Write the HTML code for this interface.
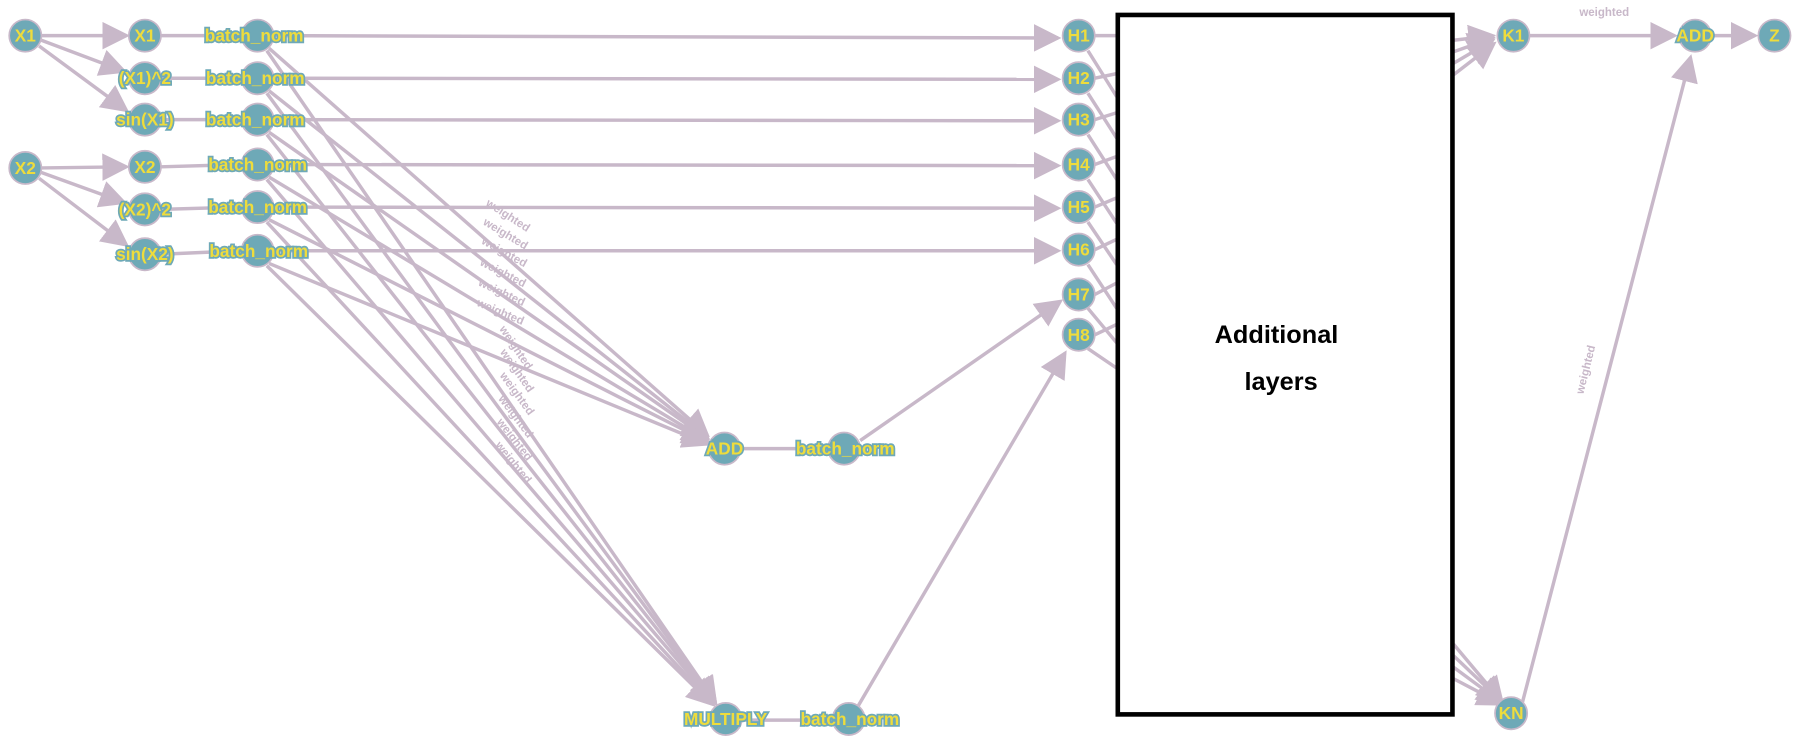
<!DOCTYPE html>
<html><head><meta charset="utf-8"><style>
html,body{margin:0;padding:0;background:#fff;}
svg{display:block;}
.e{stroke:#c8b8c9;stroke-width:3;fill:none;}
.n{fill:#6ea9b7;stroke:#c8b8c9;stroke-width:1.5;}
.t{font-family:"Liberation Sans",sans-serif;font-weight:bold;font-size:15px;fill:#eedc3c;stroke:#6ea9b7;stroke-width:3;paint-order:stroke;text-anchor:middle;dominant-baseline:central;}
.w{font-family:"Liberation Sans",sans-serif;font-weight:bold;font-size:10px;fill:#c8b8c9;text-anchor:middle;}
</style></head><body>
<svg width="1794" height="742" viewBox="0 0 1560 645" preserveAspectRatio="none" xmlns="http://www.w3.org/2000/svg">
<defs>
<marker id="a" markerWidth="8" markerHeight="8" refX="7" refY="4" orient="auto" markerUnits="strokeWidth"><path d="M0,0 L8,4 L0,8 z" fill="#c8b8c9"/></marker>
</defs>
<g class="e">
<!-- inputs -->
<line x1="36" y1="31" x2="110" y2="31" marker-end="url(#a)"/>
<line x1="36" y1="35" x2="108" y2="62" marker-end="url(#a)"/>
<line x1="34" y1="40" x2="110" y2="96" marker-end="url(#a)"/>
<line x1="36" y1="146" x2="110" y2="145" marker-end="url(#a)"/>
<line x1="36" y1="150" x2="108" y2="176" marker-end="url(#a)"/>
<line x1="34" y1="155" x2="110" y2="213" marker-end="url(#a)"/>
<!-- to batch norm -->
<line x1="140" y1="31" x2="210" y2="31"/>
<line x1="140" y1="68" x2="210" y2="68"/>
<line x1="140" y1="104" x2="210" y2="104"/>
<line x1="140" y1="145" x2="210" y2="143"/>
<line x1="140" y1="182" x2="210" y2="180"/>
<line x1="140" y1="221" x2="210" y2="218"/>
<!-- to H -->
<line x1="238" y1="31" x2="920" y2="33" marker-end="url(#a)"/>
<line x1="238" y1="68" x2="920" y2="69" marker-end="url(#a)"/>
<line x1="238" y1="104" x2="920" y2="105" marker-end="url(#a)"/>
<line x1="238" y1="143" x2="920" y2="144" marker-end="url(#a)"/>
<line x1="238" y1="180" x2="920" y2="181" marker-end="url(#a)"/>
<line x1="238" y1="218" x2="920" y2="218" marker-end="url(#a)"/>
<!-- to ADD -->
<line x1="234" y1="42" x2="615" y2="378" marker-end="url(#a)"/>
<line x1="234" y1="79" x2="615" y2="380" marker-end="url(#a)"/>
<line x1="234" y1="115" x2="615" y2="381" marker-end="url(#a)"/>
<line x1="234" y1="154" x2="615" y2="383" marker-end="url(#a)"/>
<line x1="234" y1="191" x2="615" y2="384" marker-end="url(#a)"/>
<line x1="234" y1="229" x2="615" y2="386" marker-end="url(#a)"/>
<!-- to MULTIPLY -->
<line x1="232" y1="44" x2="622" y2="610" marker-end="url(#a)"/>
<line x1="232" y1="81" x2="622" y2="610" marker-end="url(#a)"/>
<line x1="232" y1="117" x2="622" y2="611" marker-end="url(#a)"/>
<line x1="232" y1="156" x2="621" y2="611" marker-end="url(#a)"/>
<line x1="232" y1="193" x2="620" y2="612" marker-end="url(#a)"/>
<line x1="232" y1="231" x2="619" y2="612" marker-end="url(#a)"/>
<line x1="646" y1="390" x2="720" y2="390"/>
<line x1="646" y1="626" x2="724" y2="626"/>
<line x1="748" y1="383" x2="922" y2="262" marker-end="url(#a)"/>
<line x1="746" y1="614" x2="926" y2="307" marker-end="url(#a)"/>
<!-- H to box -->
<line x1="952" y1="31" x2="971" y2="31"/>
<line x1="952" y1="68" x2="971" y2="64"/>
<line x1="952" y1="104" x2="971" y2="98"/>
<line x1="952" y1="143" x2="971" y2="136"/>
<line x1="952" y1="180" x2="971" y2="172"/>
<line x1="952" y1="217" x2="971" y2="208"/>
<line x1="952" y1="256" x2="971" y2="246"/>
<line x1="952" y1="291" x2="971" y2="282"/>
<line x1="946" y1="44" x2="971" y2="84"/>
<line x1="946" y1="81" x2="971" y2="120"/>
<line x1="946" y1="117" x2="971" y2="156"/>
<line x1="946" y1="156" x2="971" y2="194"/>
<line x1="946" y1="193" x2="971" y2="230"/>
<line x1="946" y1="230" x2="971" y2="268"/>
<line x1="946" y1="268" x2="971" y2="298"/>
<line x1="946" y1="303" x2="971" y2="320"/>
<!-- box to K1 -->
<line x1="1264" y1="35" x2="1298" y2="31" marker-end="url(#a)"/>
<line x1="1264" y1="45" x2="1298" y2="33" marker-end="url(#a)"/>
<line x1="1264" y1="55" x2="1298" y2="35" marker-end="url(#a)"/>
<line x1="1264" y1="65" x2="1299" y2="38" marker-end="url(#a)"/>
<line x1="1264" y1="560" x2="1306" y2="610" marker-end="url(#a)"/>
<line x1="1264" y1="570" x2="1306" y2="610" marker-end="url(#a)"/>
<line x1="1264" y1="580" x2="1306" y2="611" marker-end="url(#a)"/>
<line x1="1264" y1="590" x2="1306" y2="612" marker-end="url(#a)"/>
<line x1="1330" y1="31" x2="1456" y2="31" marker-end="url(#a)"/>
<line x1="1488" y1="31" x2="1526" y2="31" marker-end="url(#a)"/>
<line x1="1324" y1="610" x2="1470" y2="50" marker-end="url(#a)"/>
</g>
<!-- weighted labels -->
<g class="w">
<text transform="translate(440,190) rotate(33)">weighted</text>
<text transform="translate(438,206) rotate(31)">weighted</text>
<text transform="translate(437,222) rotate(29)">weighted</text>
<text transform="translate(436,240) rotate(27)">weighted</text>
<text transform="translate(435,257) rotate(25)">weighted</text>
<text transform="translate(434,274) rotate(23)">weighted</text>
<text transform="translate(446,304) rotate(56)">weighted</text>
<text transform="translate(447,324) rotate(55)">weighted</text>
<text transform="translate(447,344) rotate(54)">weighted</text>
<text transform="translate(446,364) rotate(53)">weighted</text>
<text transform="translate(445,384) rotate(52)">weighted</text>
<text transform="translate(444,404) rotate(51)">weighted</text>
<text x="1395" y="14">weighted</text>
<text transform="translate(1382,322) rotate(-76)">weighted</text>
</g>
<!-- box -->
<rect x="972" y="13" width="291" height="608" fill="#fff" stroke="#000" stroke-width="4"/>
<text x="1110" y="298" font-family="Liberation Sans,sans-serif" font-weight="bold" font-size="22" text-anchor="middle">Additional</text>
<text x="1114" y="339" font-family="Liberation Sans,sans-serif" font-weight="bold" font-size="22" text-anchor="middle">layers</text>
<!-- nodes -->
<g>
<circle class="n" cx="22" cy="31" r="14"/><circle class="n" cx="22" cy="146" r="14"/>
<circle class="n" cx="126" cy="31" r="14"/><circle class="n" cx="126" cy="68" r="14"/><circle class="n" cx="126" cy="104" r="14"/>
<circle class="n" cx="126" cy="145" r="14"/><circle class="n" cx="126" cy="182" r="14"/><circle class="n" cx="126" cy="221" r="14"/>
<circle class="n" cx="224" cy="31" r="14"/><circle class="n" cx="224" cy="68" r="14"/><circle class="n" cx="224" cy="104" r="14"/>
<circle class="n" cx="224" cy="143" r="14"/><circle class="n" cx="224" cy="180" r="14"/><circle class="n" cx="224" cy="218" r="14"/>
<circle class="n" cx="938" cy="31" r="14"/><circle class="n" cx="938" cy="68" r="14"/><circle class="n" cx="938" cy="104" r="14"/><circle class="n" cx="938" cy="143" r="14"/>
<circle class="n" cx="938" cy="180" r="14"/><circle class="n" cx="938" cy="217" r="14"/><circle class="n" cx="938" cy="256" r="14"/><circle class="n" cx="938" cy="291" r="14"/>
<circle class="n" cx="630" cy="390" r="14"/><circle class="n" cx="734" cy="390" r="14"/>
<circle class="n" cx="631" cy="625" r="14"/><circle class="n" cx="738" cy="625" r="14"/>
<circle class="n" cx="1316" cy="31" r="14"/><circle class="n" cx="1474" cy="31" r="14"/><circle class="n" cx="1543" cy="31" r="14"/>
<circle class="n" cx="1314" cy="620" r="14"/>
</g>
<g class="t">
<text x="22" y="31">X1</text><text x="22" y="146">X2</text>
<text x="126" y="31">X1</text><text x="126" y="68">(X1)^2</text><text x="126" y="104">sin(X1)</text>
<text x="126" y="145">X2</text><text x="126" y="182">(X2)^2</text><text x="126" y="221">sin(X2)</text>
<text x="221" y="31">batch_norm</text><text x="222" y="68">batch_norm</text><text x="222" y="104">batch_norm</text>
<text x="224" y="143">batch_norm</text><text x="224" y="180">batch_norm</text><text x="225" y="218">batch_norm</text>
<text x="938" y="31">H1</text><text x="938" y="68">H2</text><text x="938" y="104">H3</text><text x="938" y="143">H4</text>
<text x="938" y="180">H5</text><text x="938" y="217">H6</text><text x="938" y="256">H7</text><text x="938" y="291">H8</text>
<text x="630" y="390">ADD</text><text x="735" y="390">batch_norm</text>
<text x="631" y="625">MULTIPLY</text><text x="739" y="625">batch_norm</text>
<text x="1316" y="31">K1</text><text x="1474" y="31">ADD</text><text x="1543" y="31">Z</text>
<text x="1314" y="620">KN</text>
</g>
</svg>
</body></html>
